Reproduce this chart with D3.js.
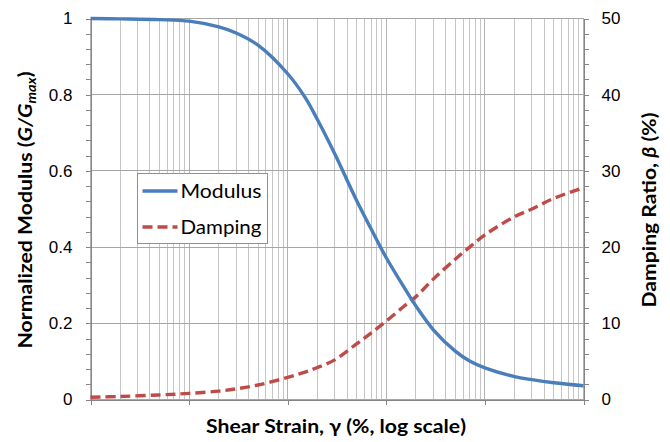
<!DOCTYPE html>
<html>
<head>
<meta charset="utf-8">
<script src="https://cdn.jsdelivr.net/npm/d3@7"></script>
<style>
  body { margin: 0; background: #fff; }
  svg { display: block; font-family: Lato, "Open Sans", sans-serif; }
  .grid line { stroke: #b3b3b3; stroke-width: 1; shape-rendering: crispEdges; }
  .grid .minor { stroke: #c6c6c6; }
  .axis path, .axis line { stroke: #868686; shape-rendering: crispEdges; }
  .axis text { font-size: 17px; fill: #000; }
</style>
</head>
<body>
<svg id="chart" width="670" height="442"></svg>
<script>
// shear strain in %, log axis
const strain = [0.0001, 0.0002, 0.0005, 0.001, 0.002, 0.003, 0.005, 0.01, 0.015, 0.02,
                0.03, 0.05, 0.07, 0.1, 0.15, 0.2, 0.3, 0.5, 0.7, 1, 2, 3, 5, 10];
const modulus = [1.000, 0.999, 0.997, 0.993, 0.978, 0.962, 0.930, 0.855, 0.793, 0.735,
                 0.645, 0.522, 0.448, 0.372, 0.296, 0.245, 0.183, 0.127, 0.101, 0.083,
                 0.060, 0.052, 0.044, 0.036];
const damping = [0.3, 0.4, 0.6, 0.8, 1.1, 1.4, 1.9, 2.9, 3.6, 4.2,
                 5.2, 7.3, 8.7, 10.3, 12.2, 13.5, 15.8, 18.4, 20.0, 21.6,
                 24.0, 25.0, 26.4, 27.8];
const xDecades = [0.0001, 0.001, 0.01, 0.1, 1, 10];
const leftTicks = [0, 0.2, 0.4, 0.6, 0.8, 1];
const rightTicks = [0, 10, 20, 30, 40, 50];

const blue = "#4a7ebb", red = "#be4b48";

const svg = d3.select("#chart");
const plot = {left: 90.5, right: 583.5, top: 18.5, bottom: 399.5};

const x = d3.scaleLog().domain([1e-4, 10]).range([plot.left, plot.right]);
const yL = d3.scaleLinear().domain([0, 1]).range([plot.bottom, plot.top]);
const yR = d3.scaleLinear().domain([0, 50]).range([plot.bottom, plot.top]);

// minor log values 2..9 in each decade
const minorX = [];
xDecades.slice(0, -1).forEach(d => {
    for (let k = 2; k <= 9; ++k) minorX.push(d * k);
});

const grid = svg.append("g").attr("class", "grid");
grid.selectAll("line.minor").data(minorX).enter().append("line")
    .attr("class", "minor")
    .attr("x1", d => x(d)).attr("x2", d => x(d))
    .attr("y1", plot.top).attr("y2", plot.bottom);
grid.selectAll("line.majx").data(xDecades).enter().append("line")
    .attr("class", "majx")
    .attr("x1", d => x(d)).attr("x2", d => x(d))
    .attr("y1", plot.top).attr("y2", plot.bottom);
grid.selectAll("line.majy").data(leftTicks).enter().append("line")
    .attr("class", "majy")
    .style("stroke", "#a6a6a6")
    .attr("x1", plot.left).attr("x2", plot.right)
    .attr("y1", d => yL(d)).attr("y2", d => yL(d));

// axes
const minorY = d3.range(0, 1.0001, 0.04);
svg.append("g").attr("class", "axis")
    .attr("transform", `translate(${plot.left},0)`)
    .call(d3.axisLeft(yL).tickValues(minorY).tickFormat("").tickSize(5).tickSizeOuter(0));
svg.append("g").attr("class", "axis")
    .attr("transform", `translate(${plot.left},0)`)
    .call(d3.axisLeft(yL).tickValues(leftTicks).tickFormat(d3.format("")).tickSize(5).tickPadding(13).tickSizeOuter(0));

const minorR = d3.range(0, 50.001, 2);
svg.append("g").attr("class", "axis")
    .attr("transform", `translate(${plot.right},0)`)
    .call(d3.axisRight(yR).tickValues(minorR).tickFormat("").tickSize(5).tickSizeOuter(0));
svg.append("g").attr("class", "axis")
    .attr("transform", `translate(${plot.right},0)`)
    .call(d3.axisRight(yR).tickValues(rightTicks).tickSize(5).tickPadding(13).tickSizeOuter(0));

svg.append("g").attr("class", "axis")
    .attr("transform", `translate(0,${plot.bottom})`)
    .call(d3.axisBottom(x).tickValues(xDecades).tickFormat("").tickSize(5).tickSizeOuter(0));

// curves
const modLine = d3.line()
    .x((d, i) => x(strain[i]))
    .y(d => yL(d))
    .curve(d3.curveCatmullRom.alpha(0.5));
const dampLine = d3.line()
    .x((d, i) => x(strain[i]))
    .y(d => yR(d))
    .curve(d3.curveCatmullRom.alpha(0.5));

svg.append("path").datum(damping)
    .attr("d", dampLine)
    .attr("fill", "none").attr("stroke", red)
    .attr("stroke-width", 3.4).attr("stroke-dasharray", "10,5");
svg.append("path").datum(modulus)
    .attr("d", modLine)
    .attr("fill", "none").attr("stroke", blue)
    .attr("stroke-width", 3.4);

// legend
const legend = svg.append("g").attr("transform", "translate(137.5,173.5)");
legend.append("rect")
    .attr("width", 130).attr("height", 70)
    .attr("fill", "#fff").attr("stroke", "#6f96c8").attr("stroke-width", 1);
const items = [
    {name: "Modulus", color: blue, dash: null},
    {name: "Damping", color: red, dash: "10,5"},
];
items.forEach((it, i) => {
    const cy = 17.5 + i * 36;
    legend.append("line")
        .attr("x1", 5).attr("x2", 40).attr("y1", cy).attr("y2", cy)
        .attr("stroke", it.color).attr("stroke-width", 3.4)
        .attr("stroke-dasharray", it.dash);
    legend.append("text")
        .attr("x", 43).attr("y", cy + 6.5)
        .attr("font-size", 19)
        .attr("textLength", 81).attr("lengthAdjust", "spacingAndGlyphs")
        .text(it.name);
});

// axis titles
svg.append("text")
    .attr("x", 336).attr("y", 433)
    .attr("text-anchor", "middle")
    .attr("font-size", 18).attr("font-weight", "bold")
    .attr("textLength", 260).attr("lengthAdjust", "spacingAndGlyphs")
    .text("Shear Strain, γ (%, log scale)");

const lt = svg.append("text")
    .attr("transform", "translate(32,210) rotate(-90)")
    .attr("text-anchor", "middle")
    .attr("font-size", 19).attr("font-weight", "bold")
    .attr("textLength", 277).attr("lengthAdjust", "spacingAndGlyphs");
lt.append("tspan").text("Normalized Modulus (");
lt.append("tspan").attr("font-style", "italic").text("G/G");
lt.append("tspan").attr("font-style", "italic").attr("font-size", 13).attr("dy", 4).text("max");
lt.append("tspan").attr("dy", -4).text(")");

const rt = svg.append("text")
    .attr("transform", "translate(656,210) rotate(-90)")
    .attr("text-anchor", "middle")
    .attr("font-size", 19).attr("font-weight", "bold")
    .attr("textLength", 195).attr("lengthAdjust", "spacingAndGlyphs");
rt.append("tspan").text("Damping Ratio, ");
rt.append("tspan").attr("font-style", "italic").text("β");
rt.append("tspan").text(" (%)");
</script>
</body>
</html>
